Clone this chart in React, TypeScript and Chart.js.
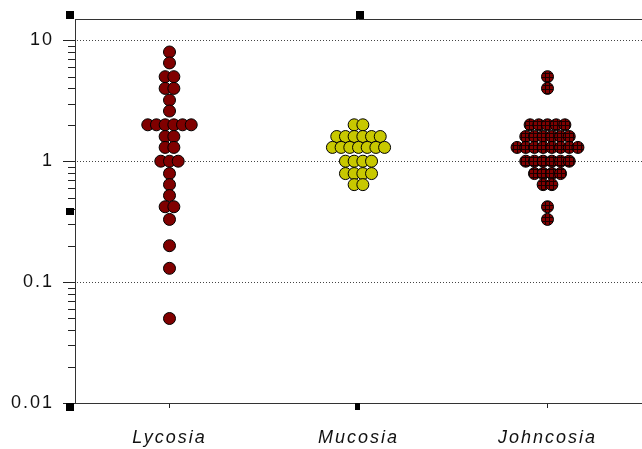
import React, { useEffect, useRef } from "react";
import { Chart, registerables } from "chart.js";

Chart.register(...registerables);

// ---- data ----
const categories = ["Lycosia", "Mucosia", "Johncosia"];

const lycosia = [
  8, 6.5, 5, 5, 4, 4, 3.2, 2.6,
  2, 2, 2, 2, 2, 2,
  1.6, 1.6, 1.3, 1.3, 1, 1, 1,
  0.79, 0.64, 0.52, 0.42, 0.42, 0.33, 0.2, 0.13, 0.05,
];

const mucosia = [
  2, 2,
  1.6, 1.6, 1.6, 1.6, 1.6, 1.6,
  1.3, 1.3, 1.3, 1.3, 1.3, 1.3, 1.3,
  1, 1, 1, 1,
  0.79, 0.79, 0.79, 0.79,
  0.64, 0.64,
];

const johncosia = [
  5, 4,
  2, 2, 2, 2, 2,
  1.6, 1.6, 1.6, 1.6, 1.6, 1.6,
  1.3, 1.3, 1.3, 1.3, 1.3, 1.3, 1.3, 1.3,
  1, 1, 1, 1, 1, 1,
  0.79, 0.79, 0.79, 0.79,
  0.64, 0.64,
  0.42, 0.33,
];

const yTickValues = [0.01, 0.1, 1, 10];
const yTickLabels = ["0.01", "0.1", "1", "10"];
const gridValues = [0.1, 1, 10];
const yMin = 0.01;
const yMax = 15;

// ---- layout / style constants ----
const SWARM_STEP = 0.046; // horizontal spacing between tied points (x data units)
const FONT = "'Liberation Sans', Arial, sans-serif";

function swarm(values: number[], idx: number) {
  const pts: { x: number; y: number }[] = [];
  let i = 0;
  while (i < values.length) {
    let j = i;
    while (j < values.length && values[j] === values[i]) j++;
    const n = j - i;
    for (let k = 0; k < n; k++) {
      pts.push({ x: idx + (k - (n - 1) / 2) * SWARM_STEP, y: values[i] });
    }
    i = j;
  }
  return pts;
}

function hatchPattern(): any {
  const c = document.createElement("canvas");
  c.width = 4;
  c.height = 4;
  const g = c.getContext("2d")!;
  g.fillStyle = "#800000";
  g.fillRect(0, 0, 4, 4);
  g.fillStyle = "#1a0000";
  g.fillRect(1, 0, 1, 4);
  g.fillRect(0, 1, 4, 1);
  return g.createPattern(c, "repeat");
}

function isDecadeStep(v: number) {
  if (v <= 0) return false;
  const e = Math.floor(Math.log10(v) + 1e-9);
  const s = v / Math.pow(10, e);
  return Math.abs(s - Math.round(s)) < 1e-6;
}

const framePlugin = {
  id: "frame",
  beforeDraw(chart: any) {
    (chart.ctx as any).letterSpacing = "2px";
  },
  beforeDatasetsDraw(chart: any) {
    const { ctx, chartArea: a, scales } = chart;
    const y = scales.y;
    ctx.save();
    (ctx as any).letterSpacing = "0px";
    ctx.lineWidth = 1;
    // dotted grid lines
    ctx.strokeStyle = "#444";
    ctx.setLineDash([1, 2]);
    for (const v of gridValues) {
      const py = Math.round(y.getPixelForValue(v)) + 0.5;
      ctx.beginPath();
      ctx.moveTo(a.left + 2, py);
      ctx.lineTo(a.right, py);
      ctx.stroke();
    }
    ctx.setLineDash([]);
    // y tick marks (major / minor)
    ctx.strokeStyle = "#222";
    for (const t of y.ticks) {
      const v = t.value;
      if (v > 10 + 1e-9 || !isDecadeStep(v)) continue;
      const major = yTickValues.some((d) => Math.abs(d - v) / d < 1e-6);
      const len = major ? 12 : 7;
      const py = Math.round(y.getPixelForValue(v)) + 0.5;
      ctx.beginPath();
      ctx.moveTo(a.left - len, py);
      ctx.lineTo(a.left, py);
      ctx.stroke();
    }
    // top frame line
    ctx.strokeStyle = "#333";
    ctx.beginPath();
    ctx.moveTo(a.left, a.top + 0.5);
    ctx.lineTo(a.right, a.top + 0.5);
    ctx.stroke();
    ctx.restore();
  },
  afterDraw(chart: any) {
    const { ctx, chartArea: a } = chart;
    const cx = Math.round((a.left + a.right) / 2);
    const cy = Math.round((a.top + a.bottom) / 2);
    ctx.save();
    ctx.fillStyle = "#000";
    const L = Math.round(a.left);
    const T = Math.round(a.top);
    const B = Math.round(a.bottom);
    ctx.fillRect(L - 9, T - 8, 8, 8);
    ctx.fillRect(cx - 3, T - 8, 8, 8);
    ctx.fillRect(L - 9, cy - 3, 8, 7);
    ctx.fillRect(L - 9, B, 8, 8);
    ctx.fillRect(cx - 4, B, 5, 7);
    ctx.restore();
  },
};

export default function App() {
  const ref = useRef<HTMLCanvasElement | null>(null);

  useEffect(() => {
    document.body.style.margin = "0";
    const canvas = ref.current!;
    const common = {
      pointRadius: 6,
      pointHoverRadius: 6,
      borderWidth: 1,
      pointBorderColor: "#000",
      borderColor: "#000",
      showLine: false,
    };
    const chart = new Chart(canvas, {
      type: "scatter",
      data: {
        datasets: [
          { ...common, label: categories[0], data: swarm(lycosia, 0), backgroundColor: "#800000", pointBackgroundColor: "#800000" },
          { ...common, label: categories[1], data: swarm(mucosia, 1), backgroundColor: "#c8c800", pointBackgroundColor: "#c8c800" },
          { ...common, label: categories[2], data: swarm(johncosia, 2), backgroundColor: hatchPattern(), pointBackgroundColor: hatchPattern() },
        ],
      },
      options: {
        animation: false,
        responsive: false,
        devicePixelRatio: 1,
        layout: { autoPadding: false, padding: { top: 19, left: 0, right: 0, bottom: 0 } },
        plugins: { legend: { display: false }, tooltip: { enabled: false } },
        scales: {
          x: {
            type: "linear",
            min: -0.5,
            max: 2.5,
            afterBuildTicks: (s: any) => {
              s.ticks = categories.map((_, i) => ({ value: i }));
            },
            afterFit: (s: any) => {
              s.height = 46;
              s.paddingLeft = 0;
              s.paddingRight = 0;
            },
            grid: {
              display: true,
              drawOnChartArea: false,
              drawTicks: true,
              tickLength: 5,
              tickColor: "#222",
              color: "#222",
            },
            border: { display: true, color: "#333", width: 1 },
            ticks: {
              autoSkip: false,
              maxRotation: 0,
              padding: 19,
              color: "#111",
              font: { family: FONT, size: 18, style: "italic" },
              callback: (v: any) => categories[Math.round(Number(v))] ?? "",
            },
          },
          y: {
            type: "logarithmic",
            min: yMin,
            max: yMax,
            afterFit: (s: any) => {
              s.width = 75;
              s.paddingTop = 0;
              s.paddingBottom = 0;
            },
            grid: { display: false },
            border: { display: true, color: "#333", width: 1 },
            ticks: {
              autoSkip: false,
              padding: 13,
              color: "#111",
              font: { family: FONT, size: 18 },
              callback: (v: any) => {
                const i = yTickValues.findIndex((d) => Math.abs(d - Number(v)) / d < 1e-6);
                return i >= 0 ? yTickLabels[i] : "";
              },
            },
          },
        },
      },
      plugins: [framePlugin],
    } as any);
    return () => chart.destroy();
  }, []);

  return (
    <div style={{ width: 642, height: 449 }}>
      <canvas ref={ref} width={642} height={449} style={{ display: "block" }} />
    </div>
  );
}
